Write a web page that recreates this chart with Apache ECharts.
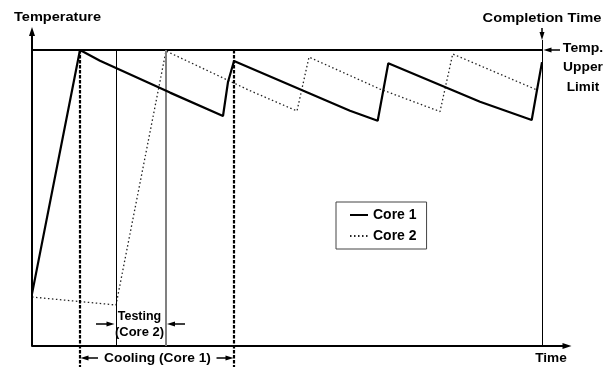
<!DOCTYPE html>
<html>
<head>
<meta charset="utf-8">
<script src="https://cdn.jsdelivr.net/npm/echarts@6/dist/echarts.min.js"></script>
<style>
  html, body { margin: 0; padding: 0; background: #fff; }
  #chart { width: 613px; height: 367px; }
</style>
</head>
<body>
<div id="chart"></div>
<script>
// Time axis: 0 = start, 100 = completion. Temperature axis: 100 = upper limit.
const core1Time = [0, 9.41, 13.33, 27.06, 37.45, 38.43, 39.61, 62.35, 67.78, 69.86, 87.84, 97.98, 99.02, 100];
const core1Temp = [17.6, 100, 96.4, 85.6, 77.7, 89.2, 96.3, 79.5, 76.1, 95.5, 82.5, 76.35, 86.5, 95.9];

const core2Time = [0, 16.47, 26.27, 42.75, 51.96, 54.31, 68.24, 80.0, 82.49, 99.02];
const core2Temp = [16.55, 13.85, 99.66, 86.25, 79.4, 97.6, 86.8, 79.2, 98.65, 86.5];

const seriesNames = ['Core 1', 'Core 2'];
const upperLimit = 100;
const completionTime = 100;
const coolingStart = 9.41;   // Core 1 cooling window
const coolingEnd = 39.61;
const testingStart = 16.47;  // Core 2 testing window
const testingEnd = 26.27;

const X_MAX = 104.9;
const Y_MIN = -7.095;
const Y_MAX = 107.77;

const FONT = 'Liberation Sans';

function pairs(xs, ys) { return xs.map((x, i) => [x, ys[i]]); }

// straight guide segment, optional arrow at the end
function seg(a, b, style, arrowEnd, arrowSize) {
  return [
    { coord: a, symbol: 'none', lineStyle: style },
    { coord: b, symbol: arrowEnd ? 'triangle' : 'none', symbolSize: arrowSize || [6, 8] }
  ];
}

const solid1 = { color: '#000', width: 1, type: 'solid' };
const solid2 = { color: '#000', width: 2, type: 'solid' };
const dashed = { color: '#000', width: 2.2, type: [3.5, 1.5] };
const gray = { color: '#808080', width: 2, type: 'solid' };
const arrowLine = { color: '#000', width: 1.5, type: 'solid' };

function label(text, x, y, align, size, sx) {
  return {
    type: 'text', x: x, y: y, scaleX: sx || 1, silent: true,
    style: {
      text: text, fill: '#000', align: align, verticalAlign: 'middle',
      fontFamily: FONT, fontWeight: 'bold', fontSize: size
    }
  };
}

const chart = echarts.init(document.getElementById('chart'), null, { renderer: 'canvas' });

chart.setOption({
  animation: false,
  backgroundColor: '#fff',
  grid: { left: 32, right: 46, top: 27, bottom: 0 },
  xAxis: {
    type: 'value', min: 0, max: X_MAX,
    axisLine: { show: true, onZero: true, symbol: ['none', 'triangle'], symbolSize: [6, 9],
      lineStyle: { color: '#000', width: 2 } },
    axisTick: { show: false }, axisLabel: { show: false }, splitLine: { show: false }
  },
  yAxis: {
    type: 'value', min: Y_MIN, max: Y_MAX,
    axisLine: { show: false }, axisTick: { show: false },
    axisLabel: { show: false }, splitLine: { show: false }
  },
  legend: {
    data: seriesNames,
    orient: 'vertical', left: 336, top: 202,
    padding: [6, 10, 6, 13],
    itemWidth: 18, itemHeight: 14, itemGap: 7,
    borderColor: '#444', borderWidth: 1,
    selectedMode: false,
    itemStyle: { opacity: 0 },
    textStyle: { fontFamily: FONT, fontWeight: 'bold', fontSize: 14, color: '#000' }
  },
  series: [
    {
      name: seriesNames[0], type: 'line', data: pairs(core1Time, core1Temp),
      symbol: 'none', smooth: false, z: 5,
      lineStyle: { color: '#000', width: 2.2 }, itemStyle: { color: '#000' }
    },
    {
      name: seriesNames[1], type: 'line', data: pairs(core2Time, core2Temp),
      symbol: 'none', smooth: false, z: 4,
      lineStyle: { color: '#222', width: 1.3, type: [1.5, 2.5] }, itemStyle: { color: '#222' }
    },
    {
      name: 'guides', type: 'line', data: [], z: 3, silent: true,
      markLine: {
        silent: true, animation: false, label: { show: false },
        emphasis: { disabled: true },
        data: [
          // temperature axis with arrow
          seg([0, 0], [0, 106.25], solid2, true, [6, 9]),
          // upper temperature limit
          seg([0, upperLimit], [completionTime, upperLimit], solid2),
          // cooling window bounds (Core 1)
          seg([coolingStart, upperLimit], [coolingStart, Y_MIN], dashed),
          seg([coolingEnd, upperLimit], [coolingEnd, Y_MIN], dashed),
          // testing window bounds (Core 2)
          seg([testingStart, upperLimit], [testingStart, 0], solid1),
          seg([testingEnd, upperLimit], [testingEnd, 0], gray),
          // completion time
          seg([completionTime, 103.4], [completionTime, 0], solid1),
          seg([completionTime, 107.4], [completionTime, 104.7], arrowLine, true, [5, 8]),
          // pointer to upper limit label
          seg([103.53, upperLimit], [101.08, upperLimit], arrowLine, true, [5, 8]),
          // testing arrows
          seg([12.55, 7.43], [15.39, 7.43], arrowLine, true, [5, 8]),
          seg([30.0, 7.43], [27.25, 7.43], arrowLine, true, [5, 8]),
          // cooling arrows
          seg([12.94, -4.05], [10.29, -4.05], arrowLine, true, [5, 8]),
          seg([36.18, -4.05], [38.73, -4.05], arrowLine, true, [5, 8])
        ]
      }
    }
  ],
  graphic: [
    label('Temperature', 14, 17.5, 'left', 13, 1.12),
    label('Completion Time', 542, 18, 'center', 13, 1.13),
    label('Temp.', 583, 48, 'center', 13, 1.08),
    label('Upper', 583, 67.5, 'center', 13, 1.06),
    label('Limit', 583, 87, 'center', 13, 1.04),
    label('Testing', 139.5, 316.5, 'center', 12, 1.04),
    label('(Core 2)', 139.5, 333, 'center', 12, 1.08),
    label('Cooling (Core 1)', 157.5, 358.5, 'center', 13, 1.056),
    label('Time', 551, 358.7, 'center', 13, 1.05)
  ]
});
</script>
</body>
</html>
